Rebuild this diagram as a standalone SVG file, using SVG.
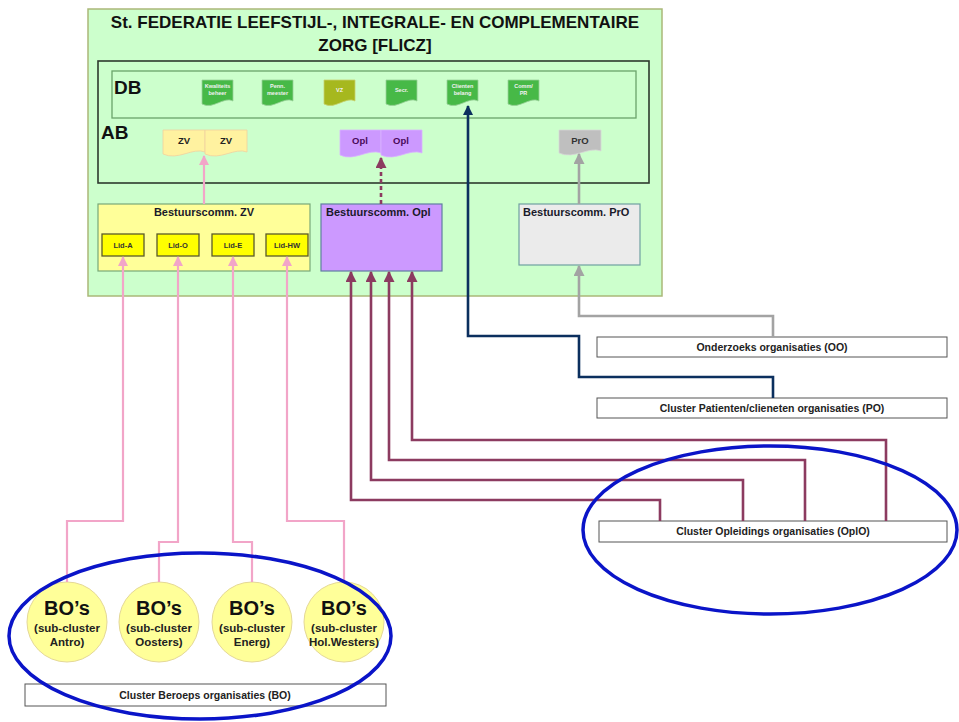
<svg xmlns="http://www.w3.org/2000/svg" width="959" height="722" viewBox="0 0 959 722">
<style>
text{font-family:"Liberation Sans",Arial,sans-serif;font-weight:bold}
.title{font-size:17px;fill:#111;text-anchor:middle}
.big{font-size:19px;fill:#111}
.db{fill:#47b947;stroke:#9ad09a;stroke-width:0.8}
.dbt{font-size:5.5px;fill:#f2f2f2;text-anchor:middle}
.small{font-size:9.5px;text-anchor:middle}
.bc{font-size:11px;fill:#1a1a2a}
.lid{fill:#ffff00;stroke:#5a5a2a;stroke-width:1.3}
.lidt{font-size:7.5px;fill:#333;text-anchor:middle}
.clu{fill:#fff;stroke:#555;stroke-width:1}
.clut{font-size:10.5px;fill:#222;text-anchor:middle}
.bo{fill:#ffff99;stroke:#e4d896;stroke-width:1}
.bot1{font-size:20px;fill:#111;text-anchor:middle}
.bot2{font-size:11.5px;fill:#222;text-anchor:middle}
.ell{fill:none;stroke:#0a14c8;stroke-width:3.5}
.pink{fill:none;stroke:#f2a5c8;stroke-width:2.2}
.purp{fill:none;stroke:#8c3b60;stroke-width:2.6}
.navy{fill:none;stroke:#0b2f5e;stroke-width:2.6}
.gray{fill:none;stroke:#a3a3a3;stroke-width:2.6}
</style>
<defs>
<marker id="mPink" viewBox="0 0 10 10" refX="9" refY="5" markerWidth="10" markerHeight="10" markerUnits="userSpaceOnUse" orient="auto"><path d="M0,0 L10,5 L0,10 z" fill="#f2a5c8"/></marker>
<marker id="mPurp" viewBox="0 0 10 10" refX="9" refY="5" markerWidth="11" markerHeight="11" markerUnits="userSpaceOnUse" orient="auto"><path d="M0,0 L10,5 L0,10 z" fill="#8c3b60"/></marker>
<marker id="mNavy" viewBox="0 0 10 10" refX="9" refY="5" markerWidth="10" markerHeight="10" markerUnits="userSpaceOnUse" orient="auto"><path d="M0,0 L10,5 L0,10 z" fill="#0b2f5e"/></marker>
<marker id="mGray" viewBox="0 0 10 10" refX="9" refY="5" markerWidth="11" markerHeight="11" markerUnits="userSpaceOnUse" orient="auto"><path d="M0,0 L10,5 L0,10 z" fill="#a3a3a3"/></marker>
</defs>
<rect width="959" height="722" fill="#fff"/>

<g id="flicz">
<rect x="88" y="9" width="574" height="287" fill="#ccffcc" stroke="#aab878" stroke-width="1.5"/>
<text class="title" x="375" y="28">St. FEDERATIE LEEFSTIJL-, INTEGRALE- EN COMPLEMENTAIRE</text>
<text class="title" x="375" y="51">ZORG [FLICZ]</text>
</g>

<g id="ab">
<rect x="98" y="61" width="551" height="122" fill="none" stroke="#2e3a2e" stroke-width="1.6"/>
<text class="big" x="101" y="139">AB</text>
</g>

<g id="db">
<rect x="112" y="71" width="524" height="47" fill="#ccffcc" stroke="#6aa46a" stroke-width="1.3"/>
<text class="big" x="114" y="94">DB</text>
</g>

<g id="db-kwaliteit">
<path class="db" d="M202,80 H233 V101 C224,96 213,110 202,104 Z"/>
<text class="dbt" x="217.5" y="88">Kwaliteits</text><text class="dbt" x="217.5" y="95">beheer</text>
</g>
<g id="db-penn">
<path class="db" d="M262,80 H293 V101 C284,96 273,110 262,104 Z"/>
<text class="dbt" x="277.5" y="88">Penn.</text><text class="dbt" x="277.5" y="95">meester</text>
</g>
<g id="db-vz">
<path d="M324,80 H355 V101 C346,96 335,110 324,104 Z" fill="#a6b81e" stroke="#c8d070" stroke-width="0.8"/>
<text class="dbt" x="339.5" y="92">VZ</text>
</g>
<g id="db-secr">
<path class="db" d="M386,80 H417 V101 C408,96 397,110 386,104 Z"/>
<text class="dbt" x="401.5" y="92">Secr.</text>
</g>
<g id="db-clienten">
<path class="db" d="M447,80 H478 V101 C469,96 458,110 447,104 Z"/>
<text class="dbt" x="462.5" y="88">Clienten</text><text class="dbt" x="462.5" y="95">belang</text>
</g>
<g id="db-comm">
<path class="db" d="M508,80 H539 V101 C530,96 519,110 508,104 Z"/>
<text class="dbt" x="523.5" y="88">Comm/</text><text class="dbt" x="523.5" y="95">PR</text>
</g>

<g id="ab-zv">
<path d="M163,130 H205 V152 C193,147 178,161 163,154 Z" fill="#fff2a0" stroke="#f0d0a0" stroke-width="0.8"/>
<path d="M205,130 H247 V152 C235,147 220,161 205,154 Z" fill="#fff2a0" stroke="#f0d0a0" stroke-width="0.8"/>
<text class="small" x="184" y="144" fill="#222">ZV</text>
<text class="small" x="226" y="144" fill="#222">ZV</text>
</g>
<g id="ab-opl">
<path d="M340,130 H381 V153 C369,148 354,162 340,155 Z" fill="#cc99ff" stroke="#d9b3ff" stroke-width="0.8"/>
<path d="M381,130 H422 V153 C410,148 395,162 381,155 Z" fill="#cc99ff" stroke="#d9b3ff" stroke-width="0.8"/>
<text class="small" x="360" y="144" fill="#4a0a5a">Opl</text>
<text class="small" x="401" y="144" fill="#4a0a5a">Opl</text>
</g>
<g id="ab-pro">
<path d="M559,130 H601 V151 C589,146 574,160 559,153 Z" fill="#bfbfbf" stroke="#d8d8d8" stroke-width="0.8"/>
<text class="small" x="580" y="144" fill="#333">PrO</text>
</g>

<g id="bc-zv">
<rect x="98" y="204" width="212" height="67" fill="#ffff99" stroke="#78a878" stroke-width="1.2"/>
<text class="bc" x="204" y="216" text-anchor="middle">Bestuurscomm. ZV</text>
<rect class="lid" x="102" y="234" width="42" height="22"/>
<text class="lidt" x="123" y="248">Lid-A</text>
<rect class="lid" x="157" y="234" width="42" height="22"/>
<text class="lidt" x="178" y="248">Lid-O</text>
<rect class="lid" x="212" y="234" width="42" height="22"/>
<text class="lidt" x="233" y="248">Lid-E</text>
<rect class="lid" x="266" y="234" width="42" height="22"/>
<text class="lidt" x="287" y="248">Lid-HW</text>
</g>

<g id="bc-opl">
<rect x="321" y="204" width="121" height="67" fill="#cc99ff" stroke="#5f7fa0" stroke-width="1.2"/>
<text class="bc" x="326" y="216" fill="#2a1450">Bestuurscomm. Opl</text>
</g>

<g id="bc-pro">
<rect x="519" y="204" width="121" height="61" fill="#ebebeb" stroke="#6fa0a0" stroke-width="1.2"/>
<text class="bc" x="523" y="216">Bestuurscomm. PrO</text>
</g>

<g id="oo">
<rect class="clu" x="597" y="337" width="350" height="20"/>
<text class="clut" x="772" y="351">Onderzoeks organisaties (OO)</text>
</g>
<g id="po">
<rect class="clu" x="597" y="398" width="350" height="20"/>
<text class="clut" x="772" y="412">Cluster Patienten/clieneten organisaties (PO)</text>
</g>
<g id="oplo">
<rect class="clu" x="599" y="521" width="348" height="21"/>
<text class="clut" x="773" y="535">Cluster Opleidings organisaties (OplO)</text>
</g>
<g id="bo">
<rect class="clu" x="25" y="684" width="361" height="22"/>
<text class="clut" x="205" y="699">Cluster Beroeps organisaties (BO)</text>
</g>

<g id="bo-antro">
<circle class="bo" cx="67" cy="622" r="40"/>
<text class="bot1" x="67" y="615">BO’s</text>
<text class="bot2" x="67" y="632">(sub-cluster</text>
<text class="bot2" x="67" y="646">Antro)</text>
</g>
<g id="bo-oosters">
<circle class="bo" cx="159" cy="622" r="40"/>
<text class="bot1" x="159" y="615">BO’s</text>
<text class="bot2" x="159" y="632">(sub-cluster</text>
<text class="bot2" x="159" y="646">Oosters)</text>
</g>
<g id="bo-energ">
<circle class="bo" cx="252" cy="622" r="40"/>
<text class="bot1" x="252" y="615">BO’s</text>
<text class="bot2" x="252" y="632">(sub-cluster</text>
<text class="bot2" x="252" y="646">Energ)</text>
</g>
<g id="bo-holwesters">
<circle class="bo" cx="344" cy="622" r="40"/>
<text class="bot1" x="344" y="615">BO’s</text>
<text class="bot2" x="344" y="632">(sub-cluster</text>
<text class="bot2" x="344" y="646">Hol.Westers)</text>
</g>

<g id="connectors">
<path class="pink" d="M204,204 V156" marker-end="url(#mPink)"/>
<path class="purp" d="M381,204 V158" stroke-dasharray="4,3" marker-end="url(#mPurp)"/>
<path class="gray" d="M579,204 V154" marker-end="url(#mGray)"/>
<path class="pink" d="M67,582 V521 H123 V257" marker-end="url(#mPink)"/>
<path class="pink" d="M159,582 V542 H178 V257" marker-end="url(#mPink)"/>
<path class="pink" d="M252,582 V542 H233 V257" marker-end="url(#mPink)"/>
<path class="pink" d="M344,582 V521 H287 V257" marker-end="url(#mPink)"/>
<path class="purp" d="M660,521 V500 H351 V272" marker-end="url(#mPurp)"/>
<path class="purp" d="M743,521 V480 H371 V272" marker-end="url(#mPurp)"/>
<path class="purp" d="M805,521 V460 H389 V272" marker-end="url(#mPurp)"/>
<path class="purp" d="M886,521 V440 H412 V272" marker-end="url(#mPurp)"/>
<path class="navy" d="M773,398 V377 H579 V336 H468 V106" marker-end="url(#mNavy)"/>
<path class="gray" d="M773,337 V316 H579 V266" marker-end="url(#mGray)"/>
</g>

<g id="ellipses">
<ellipse class="ell" cx="200" cy="636" rx="191" ry="83"/>
<ellipse class="ell" cx="770" cy="530" rx="187" ry="84"/>
</g>
</svg>
